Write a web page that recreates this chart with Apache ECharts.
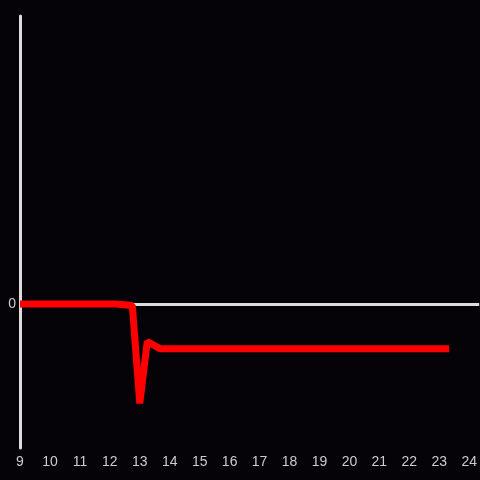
<!DOCTYPE html>
<html>
<head>
<meta charset="utf-8">
<script src="https://cdn.jsdelivr.net/npm/echarts@6/dist/echarts.min.js"></script>
<style>
  html, body { margin: 0; padding: 0; background: #050307; }
  #chart { width: 480px; height: 480px; }
</style>
</head>
<body>
<div id="chart"></div>
<script>
// hour of day vs value
const hours = [9, 12.2, 12.75, 13.0, 13.25, 13.67, 23.33];
const values = [0, 0, -0.01, -0.69, -0.26, -0.31, -0.31];
const xTicks = [9, 10, 11, 12, 13, 14, 15, 16, 17, 18, 19, 20, 21, 22, 23, 24];

const axisColor = "#dddddd";
const textColor = "#cccccc";

const chart = echarts.init(document.getElementById("chart"));
chart.setOption({
  backgroundColor: "#050307",
  animation: false,
  grid: { left: 20, right: 0, top: 16, bottom: 32, containLabel: false },
  xAxis: {
    type: "value",
    min: 9,
    max: 24.333,
    interval: 1,
    axisLine: { show: false },
    axisTick: { show: false },
    splitLine: { show: false },
    axisLabel: {
      color: textColor,
      fontSize: 14,
      fontFamily: "Liberation Sans, Arial, sans-serif",
      margin: 7,
      showMaxLabel: false,
      formatter: (v) => (xTicks.includes(v) ? String(v) : ""),
    },
  },
  yAxis: {
    type: "value",
    min: -1,
    max: 2,
    interval: 1,
    axisLine: { show: true, onZero: false, lineStyle: { color: axisColor, width: 3 } },
    axisTick: { show: false },
    splitLine: { show: false },
    axisLabel: {
      color: textColor,
      fontSize: 14,
      fontFamily: "Liberation Sans, Arial, sans-serif",
      margin: 4,
      padding: [4, 0, 0, 0],
      formatter: (v) => (v === 0 ? "0" : ""),
    },
  },
  series: [
    {
      type: "line",
      data: hours.map((h, i) => [h, values[i]]),
      showSymbol: false,
      lineStyle: { color: "#ff0000", width: 7, join: "bevel" },
      z: 3,
      markLine: {
        silent: true,
        symbol: "none",
        label: { show: false },
        lineStyle: { color: axisColor, width: 3, type: "solid" },
        data: [{ yAxis: 0 }],
        z: 2,
      },
    },
  ],
});
</script>
</body>
</html>
